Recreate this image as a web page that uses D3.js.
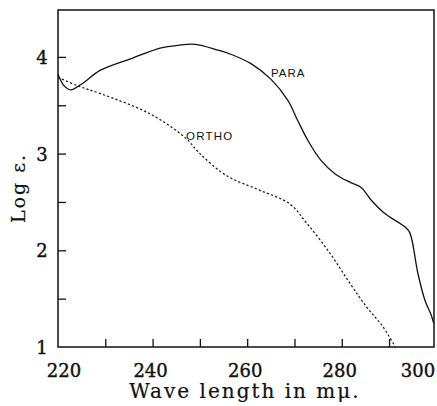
<!DOCTYPE html>
<html><head><meta charset="utf-8">
<script src="https://cdn.jsdelivr.net/npm/d3@7"></script>
<style>body{margin:0;background:#fff}</style>
</head><body>
<svg id="c" width="437" height="406"></svg>
<script>
const xTicks = [220, 230, 240, 250, 260, 270, 280, 290, 300];
const xTickLabels = ["220", "240", "260", "280", "300"];
const yTicks = [1, 1.5, 2, 2.5, 3, 3.5, 4];
const yTickLabels = ["1", "2", "3", "4"];

const paraWave = [220, 221.3, 222.7, 225, 228.9, 235.9, 241.6, 245.4, 249, 253.8, 256.4, 260.8, 265, 268.6, 270.7, 272.9, 275.6, 278.6, 281.9, 284.1, 286.2, 289.1, 293.4, 294.4, 296.1, 297.6, 298.9, 299.4];
const paraLog  = [3.82, 3.70, 3.66, 3.72, 3.86, 3.99, 4.09, 4.12, 4.13, 4.07, 4.03, 3.93, 3.77, 3.55, 3.34, 3.13, 2.93, 2.79, 2.70, 2.65, 2.52, 2.38, 2.24, 2.18, 1.76, 1.48, 1.33, 1.25];

const orthoWave = [220, 224.2, 229, 239.5, 247, 250, 255.7, 262.7, 269, 272.6, 277.5, 281.7, 285.3, 288.7, 291.3];
const orthoLog  = [3.79, 3.70, 3.62, 3.41, 3.16, 3.0, 2.77, 2.62, 2.48, 2.28, 1.97, 1.66, 1.41, 1.21, 1.0];

const svg = d3.select("#c");
const L = 58, R = 434, T = 10, B = 347;
const x = d3.scaleLinear().domain([220, 299.5]).range([L, R]);
const y = d3.scaleLinear().domain([1, 4.485]).range([B, T]);
const serif = "'DejaVu Serif', 'Liberation Serif', serif";
const sans = "'Liberation Sans', Arial, sans-serif";

// frame
svg.append("rect").attr("x", L).attr("y", T).attr("width", R - L).attr("height", B - T)
  .attr("fill", "none").attr("stroke", "#111").attr("stroke-width", 1.5);

// x ticks (inward)
const xAxis = d3.axisBottom(x).tickValues(xTicks.filter(v => v > 220 && v < 299.5)).tickSize(-8).tickFormat("");
svg.append("g").attr("transform", `translate(0,${B})`).call(xAxis)
  .call(g => g.select(".domain").remove())
  .call(g => g.selectAll("line").attr("stroke", "#111").attr("stroke-width", 1.3));
svg.append("g").selectAll("text").data(xTickLabels).join("text")
  .attr("x", d => Math.max(64, Math.min(x(+d) - 2, 418))).attr("y", 377)
  .attr("text-anchor", "middle").attr("font-family", serif).attr("font-size", 18)
  .attr("fill", "#111").attr("stroke", "#111").attr("stroke-width", 0.4).text(d => d);

// y ticks (inward)
const yAxis = d3.axisLeft(y).tickValues(yTicks.filter(v => v > 1)).tickSize(-8).tickFormat("");
svg.append("g").attr("transform", `translate(${L},0)`).call(yAxis)
  .call(g => g.select(".domain").remove())
  .call(g => g.selectAll("line").attr("stroke", "#111").attr("stroke-width", 1.3));
svg.append("g").selectAll("text").data(yTickLabels).join("text")
  .attr("x", 42).attr("y", d => y(+d) + 7)
  .attr("text-anchor", "middle").attr("font-family", serif).attr("font-size", 18)
  .attr("fill", "#111").attr("stroke", "#111").attr("stroke-width", 0.4).text(d => d);

// axis titles
svg.append("text").attr("x", 245).attr("y", 398).attr("text-anchor", "middle")
  .attr("font-family", serif).attr("font-size", 20).attr("letter-spacing", 2)
  .attr("fill", "#111").attr("stroke", "#111").attr("stroke-width", 0.2).text("Wave length in mμ.");
svg.append("text").attr("transform", "translate(25,188) rotate(-90)").attr("text-anchor", "middle")
  .attr("font-family", serif).attr("font-size", 19).attr("letter-spacing", 2)
  .attr("fill", "#111").attr("stroke", "#111").attr("stroke-width", 0.2).text("Log ε.");

// curves
const line = d3.line().x(d => x(d[0])).y(d => y(d[1])).curve(d3.curveCatmullRom.alpha(0.5));
svg.append("path").datum(paraWave.map((w, i) => [w, paraLog[i]]))
  .attr("d", line).attr("fill", "none").attr("stroke", "#111").attr("stroke-width", 1.3);
svg.append("path").datum(orthoWave.map((w, i) => [w, orthoLog[i]]))
  .attr("d", line).attr("fill", "none").attr("stroke", "#111").attr("stroke-width", 1.2)
  .attr("stroke-dasharray", "2.2,2.2");

// curve labels
svg.append("text").attr("x", 271).attr("y", 77).attr("font-family", sans)
  .attr("font-size", 11.5).attr("letter-spacing", 1).attr("fill", "#111").text("PARA");
svg.append("text").attr("x", 186).attr("y", 140).attr("font-family", sans)
  .attr("font-size", 11.5).attr("letter-spacing", 1.2).attr("fill", "#111").text("ORTHO");
</script>
</body></html>
